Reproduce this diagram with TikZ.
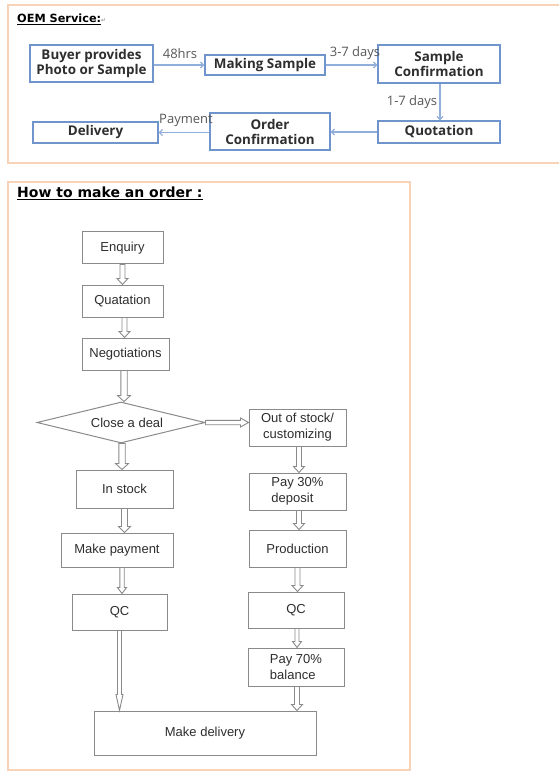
\documentclass[tikz,border=0pt]{standalone}
\usepackage{fontspec}
\setmainfont{Liberation Sans}
\newfontfamily\opensans{Open Sans}
\newfontfamily\dejavu{DejaVu Sans}
\usetikzlibrary{shapes.geometric,arrows.meta,calc}
\definecolor{peach}{HTML}{F8D3B8}
\definecolor{bboxc}{HTML}{7094CC}
\definecolor{barrow}{HTML}{92AEDB}
\definecolor{gline}{HTML}{8A8A8A}
\definecolor{gtext}{HTML}{2E2E2E}
\tikzset{
  ashaft/.store in=\ashaft, ahead/.store in=\ahead, alen/.store in=\alen,
  ashaft=2.5pt, ahead=5.5pt, alen=6pt,
  vhollow/.style={draw=gline,line width=0.9pt,fill=white,
    to path={let \p1=(\tikztostart),\p2=(\tikztotarget) in
      (\x1-\ashaft,\y1) -- (\x1-\ashaft,\y2+\alen) -- (\x1-\ahead,\y2+\alen) -- (\x1,\y2)
      -- (\x1+\ahead,\y2+\alen) -- (\x1+\ashaft,\y2+\alen) -- (\x1+\ashaft,\y1) -- cycle}},
  hhollow/.style={draw=gline,line width=0.9pt,fill=white,
    to path={let \p1=(\tikztostart),\p2=(\tikztotarget) in
      (\x1,\y1+\ashaft) -- (\x2-\alen,\y1+\ashaft) -- (\x2-\alen,\y1+\ahead) -- (\x2,\y1)
      -- (\x2-\alen,\y1-\ahead) -- (\x2-\alen,\y1-\ashaft) -- (\x1,\y1-\ashaft) -- cycle}},
}
\begin{document}
\begin{tikzpicture}[x=1pt,y=-1pt,
  panel/.style={draw=peach,line width=1.6pt},
  obox/.style={draw=bboxc,line width=1.4pt,inner sep=0pt,align=center,
    font=\opensans\bfseries\fontsize{13.4}{15}\selectfont,text=gtext},
  oarrow/.style={draw=barrow,line width=1.2pt,-{Straight Barb[length=3pt,width=6pt]}},
  olabel/.style={font=\opensans\fontsize{13}{14}\selectfont,text=gtext!80,inner sep=0pt},
  gbox/.style={draw=gline,line width=1pt,inner sep=0pt,align=center,
    font=\fontsize{13}{16}\selectfont,text=gtext},
  title/.style={inner sep=0pt,anchor=base west,text=black}
]
\useasboundingbox (0,0) rectangle (558,783);
\fill[white] (0,0) rectangle (558,783);

% ---------- OEM panel ----------
\draw[panel] (570,5) -- (8,5) -- (8,163) -- (570,163);
\node[title,font=\dejavu\bfseries\fontsize{11.3}{13}\selectfont] (oemt) at (17,23)
  {\underline{OEM Service:}{\color{gray}\fontsize{6}{6}\selectfont\mdseries ↵}};

\node[obox,minimum width=123pt,minimum height=37pt] (buyer) at (91.5,63.5) {Buyer provides\\Photo or Sample};
\node[obox,minimum width=120pt,minimum height=20pt] (making) at (265,65) {Making Sample};
\node[obox,minimum width=122pt,minimum height=38pt] (sconf) at (439,64) {Sample\\Confirmation};
\node[obox,minimum width=122pt,minimum height=22pt] (quot) at (439,132) {Quotation};
\node[obox,minimum width=120pt,minimum height=37pt] (oconf) at (270,131.5) {Order\\Confirmation};
\node[obox,minimum width=125pt,minimum height=21pt] (deliv) at (95.5,132.5) {Delivery};

\draw[oarrow] (buyer.east |- making.west) -- (making.west);
\draw[oarrow] (making.east) -- (sconf.west |- making.east);
\draw[oarrow] ([xshift=1pt]sconf.south) -- ([xshift=1pt]quot.north);
\draw[oarrow] (quot.west) -- (oconf.east |- quot.west);
\draw[oarrow] (oconf.west |- deliv.east) -- (deliv.east);

\node[olabel] (l48) at (180,54) {48hrs};
\node[olabel] (l37) at (355,53) {3-7 days};
\node[olabel] (l17) at (412,102) {1-7 days};
\node[olabel] (lpay) at (186,120) {Payment};

% ---------- Order panel ----------
\draw[panel] (8,182) rectangle (410,770);
\node[title,font=\dejavu\bfseries\fontsize{14}{16}\selectfont] (ordt) at (17,198)
  {\underline{How to make an order :}};

\node[gbox,minimum width=81pt,minimum height=32pt] (enq) at (122.5,248) {Enquiry};
\node[gbox,minimum width=81pt,minimum height=32pt] (quat) at (122.5,301) {Quatation};
\node[gbox,minimum width=87pt,minimum height=32pt] (neg) at (125.5,354) {Negotiations};
\node[diamond,draw=gline,line width=1pt,inner sep=0pt,aspect=4,
      minimum width=168pt,minimum height=41pt,
      font=\fontsize{13}{16}\selectfont,text=gtext] (deal) at (121,422.5) {\hspace*{12pt}Close a deal};
\node[gbox,minimum width=97pt,minimum height=37pt] (oos) at (297.5,427.5) {Out of stock/\\customizing};
\node[gbox,minimum width=97pt,minimum height=38pt] (instock) at (124.5,489) {In stock};
\node[gbox,minimum width=97pt,minimum height=37pt,align=left] (pay30) at (297.5,491.5) {Pay 30\%\\deposit};
\node[gbox,minimum width=112pt,minimum height=34pt] (mpay) at (117,550) {Make payment};
\node[gbox,minimum width=97pt,minimum height=37pt] (prod) at (297.5,548.5) {Production};
\node[gbox,minimum width=95pt,minimum height=36pt] (qc1) at (119.5,612) {QC};
\node[gbox,minimum width=96pt,minimum height=36pt] (qc2) at (296,610) {QC};
\node[gbox,minimum width=96pt,minimum height=38pt,align=left] (pay70) at (296,667) {Pay 70\%\\balance};
\node[gbox,minimum width=222pt,minimum height=44pt] (mdel) at (205,733) {Make delivery};

\draw[vhollow] (enq.south) to (quat.north);
\draw[vhollow] ([xshift=2pt]quat.south) to (neg.north);
\draw[vhollow,ashaft=3.2pt,ahead=6.5pt] ([xshift=-1.5pt]neg.south) to (deal.north);
\draw[vhollow,ashaft=3.2pt,ahead=6.5pt] ([xshift=1pt]deal.south) to (instock.north);
\draw[hhollow,ashaft=2.2pt,ahead=4.5pt,alen=8pt] (deal.east) to (oos.west);
\draw[vhollow,ashaft=3pt,ahead=6pt] (instock.south) to (mpay.north);
\draw[vhollow,ashaft=2.2pt,ahead=4.5pt] ([xshift=5pt]mpay.south) to (qc1.north);
\draw[vhollow,ashaft=2pt,ahead=3.5pt,alen=16pt] (qc1.south) to (mdel.north);
\draw[vhollow] ([xshift=1.5pt]oos.south) to (pay30.north);
\draw[vhollow] ([xshift=1.5pt]pay30.south) to (prod.north);
\draw[vhollow] (prod.south) to (qc2.north);
\draw[vhollow,ashaft=2pt,ahead=4.5pt] ([xshift=1pt]qc2.south) to (pay70.north);
\draw[vhollow] ([xshift=1pt]pay70.south) to (mdel.north);
\end{tikzpicture}
\end{document}
